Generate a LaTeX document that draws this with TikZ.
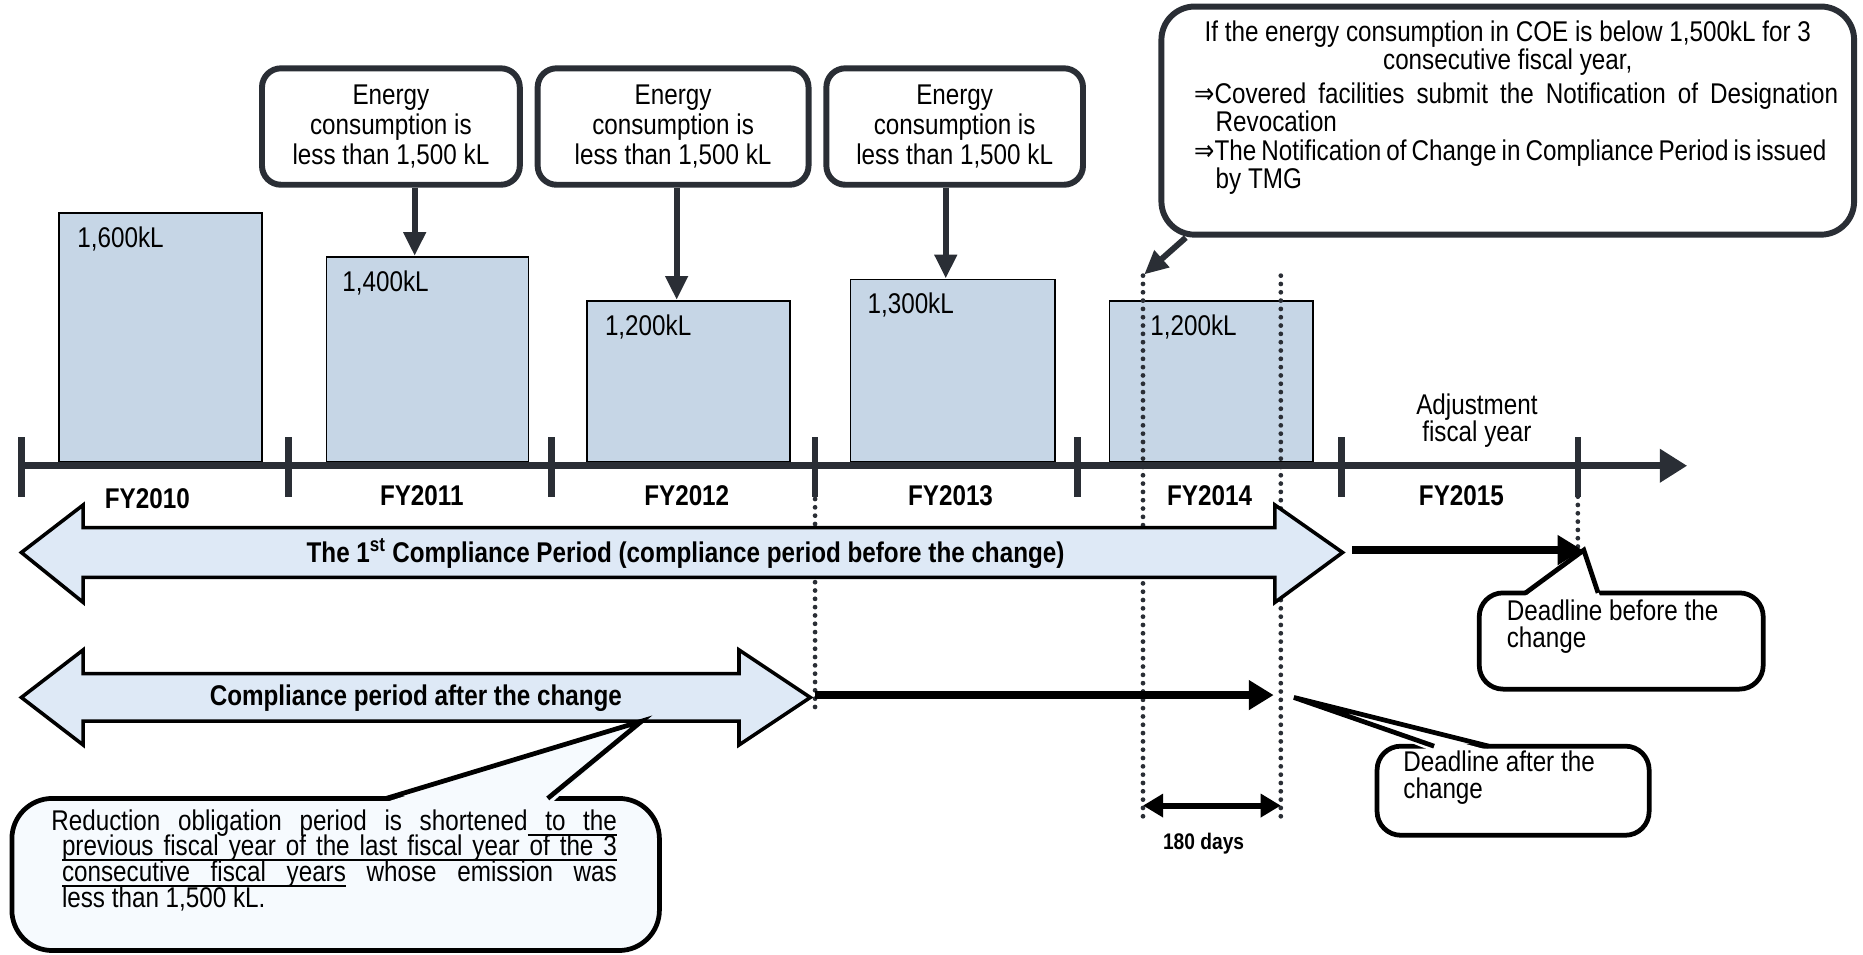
\documentclass[tikz,border=0pt]{standalone}
\usepackage{fontspec}
\setmainfont{Liberation Sans}[FakeStretch=0.85]
\newfontfamily\symfont{DejaVu Sans}[FakeStretch=0.85]
\usetikzlibrary{arrows.meta}

\definecolor{ink}{RGB}{42,46,53}
\definecolor{barfill}{RGB}{198,214,230}
\definecolor{bandfill}{RGB}{222,233,246}
\definecolor{notefill}{RGB}{246,250,254}

\newcommand\bodytext{\fontsize{24}{25}\selectfont}
\newcommand\notetext{\fontsize{24}{23}\selectfont}
\newcommand\tighttext{\fontsize{24}{21}\selectfont}
\newcommand\smalltext{\fontsize{19}{21}\selectfont}
\newcommand\implies{\smash{\symfont ⇒}}

% underlined word and underlined stretchable space
\newsavebox\ulbox
\newcommand\uw[1]{\sbox\ulbox{#1}\rlap{\vrule height -2.6pt depth 4.1pt width \wd\ulbox}\usebox\ulbox}
\newcommand\us{\leaders\hrule height -2.6pt depth 4.1pt\hskip\fontdimen2\font plus \fontdimen3\font minus \fontdimen4\font}

\tikzset{
  txt/.style={inner sep=0pt, font=\bodytext},
  fylabel/.style={inner sep=0pt, font=\bodytext\bfseries},
  bar/.style={draw=black, line width=1.6pt, fill=barfill, inner sep=0pt, anchor=south west},
  ebox/.style={draw=ink, line width=5pt, rounded corners=16pt, fill=white, align=center,
               inner sep=0pt, font=\bodytext, minimum height=98pt},
  downarrow/.style={draw=ink, line width=5pt, -{Triangle[width=18pt,length=20pt]}},
  axisline/.style={draw=ink, line width=6pt, -{Triangle[width=27pt,length=23pt]}},
  yeartick/.style={draw=ink, line width=5.5pt},
  dotline/.style={draw=ink, line width=4pt, line cap=round, dash pattern=on 0pt off 7pt},
  periodband/.style={draw=black, line width=3pt, fill=bandfill, line join=miter},
  bandtext/.style={inner sep=0pt, font=\bodytext\bfseries},
  heavyarrow/.style={draw=black, line width=6.5pt, -{Triangle[width=24pt,length=21pt]}},
  spanarrow/.style={draw=black, line width=5pt,
                    {Triangle[width=19pt,length=17pt]}-{Triangle[width=19pt,length=17pt]}},
  bigcallout/.style={draw=ink, line width=5pt, rounded corners=28pt, fill=white, inner sep=0pt},
  callout/.style={draw=black, line width=4pt, rounded corners=20pt, fill=white, inner sep=0pt},
  calltail/.style={draw=black, line width=4pt, line join=miter},
}

\begin{document}
\begin{tikzpicture}[x=1pt,y=-1pt]
\useasboundingbox (0,0) rectangle (1568,803);

% consumption bars
\node[bar, minimum width=171pt, minimum height=210pt] (b1) at (49,390) {};
\node[bar, minimum width=170pt, minimum height=173pt] (b2) at (274,390) {};
\node[bar, minimum width=171pt, minimum height=136pt] (b3) at (493,390) {};
\node[bar, minimum width=172pt, minimum height=154pt] (b4) at (715,390) {};
\node[bar, minimum width=171pt, minimum height=136pt] (b5) at (933,390) {};
\node[txt, anchor=west] (v1) at ([shift={(16,23)}]b1.north west) {1,600kL};
\node[txt, anchor=west] (v2) at ([shift={(14,23)}]b2.north west) {1,400kL};
\node[txt, anchor=west] (v3) at ([shift={(16,23)}]b3.north west) {1,200kL};
\node[txt, anchor=west] (v4) at ([shift={(15,22)}]b4.north west) {1,300kL};
\node[txt, anchor=west] (v5) at ([shift={(35,23)}]b5.north west) {1,200kL};

% yearly condition boxes
\node[ebox, minimum width=217pt] (e1) at (329,106.5) {Energy\\consumption is\\less than 1,500 kL};
\node[ebox, minimum width=228pt] (e2) at (566.5,106.5) {Energy\\consumption is\\less than 1,500 kL};
\node[ebox, minimum width=216pt] (e3) at (803.5,106.5) {Energy\\consumption is\\less than 1,500 kL};
\coordinate (s1) at ([xshift=20pt]e1.south);
\coordinate (s2) at ([xshift=3pt]e2.south);
\coordinate (s3) at ([xshift=-7.5pt]e3.south);
\draw[downarrow] (s1) -- (s1 |- b2.north);
\draw[downarrow] (s2) -- (s2 |- b3.north);
\draw[downarrow] (s3) -- (s3 |- b4.north);

% revocation note
\node[bigcallout, minimum width=583pt, minimum height=192pt] (note) at (1269,101.5) {};
\coordinate (n0) at ([xshift=23pt]note.south west);
\coordinate (n1) at (963,231);
\draw[downarrow] (n0) -- (n1);
\node[txt, align=center, font=\tighttext] (nl1) at (1269,40.5)
  {If the energy consumption in COE is below 1,500kL for 3\\consecutive fiscal year,};
\node[txt, anchor=west, align=left, font=\tighttext] (nl2) at (1005,90.5)
  {\makebox[542pt][s]{\implies Covered facilities submit the Notification of Designation}\\
   \hspace*{18pt}Revocation};
\node[txt, anchor=west, align=left, font=\tighttext] (nl3) at (1005,140.5)
  {\makebox[532pt][s]{\implies The Notification of Change in Compliance Period is issued}\\
   \hspace*{18pt}by TMG};

% time axis
\coordinate (t0) at (18,392);
\coordinate (t1) at (1420,392);
\draw[axisline] (t0) -- (t1);
\foreach \x in {18,243,464,686,907,1129,1328}
  \draw[yeartick] (\x,368) -- (\x,418);
\node[fylabel] (fy10) at (124,420) {FY2010};
\node[fylabel] (fy11) at (355,417) {FY2011};
\node[fylabel] (fy12) at (578,417) {FY2012};
\node[fylabel] (fy13) at (800,417) {FY2013};
\node[fylabel] (fy14) at (1018,417) {FY2014};
\node[fylabel] (fy15) at (1230,417) {FY2015};
\node[txt, align=center, font=\tighttext] (adj) at (1243,354) {Adjustment\\fiscal year};

% guide lines
\coordinate (m1a) at (686,392);  \coordinate (m1b) at (686,597);
\coordinate (m2a) at (962,232);  \coordinate (m2b) at (962,688);
\coordinate (m3a) at (1078,232); \coordinate (m3b) at (1078,690);
\coordinate (m4a) at (1328,418); \coordinate (m4b) at (1328,462);
\draw[dotline] (m1a) -- (m1b);
\draw[dotline] (m2a) -- (m2b);
\draw[dotline] (m3a) -- (m3b);
\draw[dotline] (m4a) -- (m4b);

% compliance periods
\draw[periodband] (18,465) -- (70,425) -- (70,444) -- (1073,444) -- (1073,425) -- (1130,465)
  -- (1073,507) -- (1073,486) -- (70,486) -- (70,507) -- cycle;
\node[bandtext] (p1) at (577,466) {The 1\textsuperscript{st} Compliance Period (compliance period before the change)};
\draw[periodband] (18,587) -- (70,547) -- (70,567) -- (622,567) -- (622,547) -- (682,587)
  -- (622,627) -- (622,607) -- (70,607) -- (70,627) -- cycle;
\node[bandtext] (p2) at (350,588) {Compliance period after the change};

% deadlines
\coordinate (h1a) at (1138,463); \coordinate (h1b) at (1332,463);
\coordinate (h2a) at (686,585);  \coordinate (h2b) at (1072,585);
\draw[heavyarrow] (h1a) -- (h1b);
\draw[heavyarrow] (h2a) -- (h2b);
\coordinate (w1) at (962,678); \coordinate (w2) at (1078,678);
\draw[spanarrow] (w1) -- (w2);
\node[inner sep=0pt, font=\smalltext\bfseries] (days) at (1013,710) {180 days};

% callout: deadline before the change
\node[callout, minimum width=239pt, minimum height=81pt] (db) at (1364.5,539.5) {};
\coordinate (dbtip) at (1333,463);
\fill[white] (1282,503) -- (dbtip) -- (1347,503) -- cycle;
\draw[calltail] (1284,499) -- (dbtip) -- (1345,499);
\node[txt, anchor=west, align=left, font=\notetext] (dbt) at (1268,527.5) {Deadline before the\\change};

% callout: deadline after the change
\node[callout, minimum width=229pt, minimum height=75pt] (da) at (1273.5,665.5) {};
\coordinate (datip) at (1089,587);
\fill[white] (1205,632) -- (datip) -- (1255,632) -- cycle;
\draw[calltail] (1207,628) -- (datip) -- (1253,628);
\node[txt, anchor=west, align=left, font=\notetext] (dat) at (1181,654.5) {Deadline after the\\change};

% callout: shortened obligation period
\node[callout, fill=notefill, rounded corners=34pt, minimum width=545pt, minimum height=128pt] (rd) at (282.5,736) {};
\coordinate (rdtip) at (540,607);
\fill[notefill] (322,676) -- (rdtip) -- (464,676) -- cycle;
\draw[calltail] (325,672) -- (rdtip) -- (461,672);
\node[txt, anchor=west] (r1) at (43,693)
  {\makebox[476pt][s]{Reduction obligation period is shortened\us\uw{to}\us\uw{the}}};
\node[txt, anchor=west] (r2) at (52,714)
  {\makebox[467pt][s]{\uw{previous}\us\uw{fiscal}\us\uw{year}\us\uw{of}\us\uw{the}\us\uw{last}\us\uw{fiscal}\us\uw{year}\us\uw{of}\us\uw{the}\us\uw{3}}};
\node[txt, anchor=west] (r3) at (52,736)
  {\makebox[467pt][s]{\uw{consecutive}\us\uw{fiscal}\us\uw{years} whose emission was}};
\node[txt, anchor=west] (r4) at (52,757) {less than 1,500 kL.};

\end{tikzpicture}
\end{document}
